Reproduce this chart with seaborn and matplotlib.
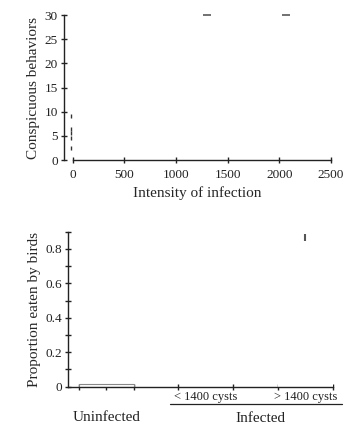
import matplotlib
matplotlib.use("Agg")
import matplotlib.pyplot as plt
import seaborn as sns
import pandas as pd
import numpy as np

# ---- data ----
low_x = [-20, -20, -20, -20, -20]
low_y = [9.2, 6.5, 5.5, 4.5, 2.5]
high_x = [1300, 2060]
high_y = [29.9, 29.9]

categories = ["Uninfected", "< 1400 cysts", "> 1400 cysts"]
proportions = [0.014, 0.0, 0.866]
prop_err = [0.0, 0.0, 0.022]

sns.set_theme(style="ticks")
plt.rcParams['font.family'] = ['Liberation Serif', 'DejaVu Serif']
plt.rcParams['axes.edgecolor'] = '#222222'
plt.rcParams['axes.linewidth'] = 1.0

fig = plt.figure(figsize=(3.51, 4.25), dpi=100)

# ---- top panel ----
ax1 = fig.add_axes([0.1823, 0.6235, 0.761, 0.3412])
sns.scatterplot(x=low_x, y=low_y, marker='|', s=12, color='#333333',
                linewidth=1.0, ax=ax1, clip_on=False)
sns.scatterplot(x=high_x, y=high_y, marker='_', s=30, color='#666666',
                linewidth=1.3, ax=ax1, clip_on=False)
ax1.set_xlim(-84, 2500)
ax1.set_ylim(0, 30)
ax1.set_xticks([0, 500, 1000, 1500, 2000, 2500])
ax1.set_yticks([0, 5, 10, 15, 20, 25, 30])
ax1.spines['top'].set_visible(False)
ax1.spines['right'].set_visible(False)
ax1.spines['bottom'].set_bounds(0, 2500)
ax1.tick_params(direction='inout', length=5, width=1.0, labelsize=9.5,
                colors='#222222', pad=2)
ax1.tick_params(axis='x', pad=4)
ax1.set_xlabel("Intensity of infection", fontsize=11, labelpad=4)
ax1.set_ylabel("Conspicuous behaviors", fontsize=11, labelpad=3)

# ---- bottom panel ----
ax2 = fig.add_axes([0.1946, 0.0901, 0.755, 0.3647])
df = pd.DataFrame({"cat": categories, "prop": proportions})
sns.barplot(data=df, x="cat", y="prop", color="white", width=0.55,
            edgecolor="#888888", linewidth=0.8, errorbar=None, ax=ax2)
for i, p in enumerate(ax2.patches):
    if i > 0:
        p.set_edgecolor('none')
ax2.errorbar([2], [proportions[2]], yerr=[prop_err[2]], fmt='none',
             ecolor='#555555', elinewidth=1.5, capsize=0)
ax2.set_xlim(-0.38, 2.28)
ax2.set_ylim(0, 0.9)
ax2.set_yticks([0, 0.2, 0.4, 0.6, 0.8])
ax2.set_yticklabels(["0", "0.2", "0.4", "0.6", "0.8"])
ax2.set_yticks(np.arange(0.1, 0.91, 0.2), minor=True)
ax2.set_xticks([-0.275, 0, 0.275, 0.725, 1.275, 1.725, 2.275])
ax2.set_xticklabels([])
ax2.spines['top'].set_visible(False)
ax2.spines['right'].set_visible(False)
ax2.tick_params(which='both', direction='inout', length=5, width=1.0,
                labelsize=9.5, colors='#222222', pad=2)
ax2.set_xlabel("")
ax2.set_ylabel("Proportion eaten by birds", fontsize=11, labelpad=3)

for xi, lab in zip([1, 2], categories[1:]):
    ax2.text(xi, -0.06, lab, ha='center', va='center', fontsize=9,
             color='#222222')
ax2.text(0, -0.18, "Uninfected", ha='center', va='center', fontsize=11,
         color='#222222')
ax2.text(1.55, -0.185, "Infected", ha='center', va='center', fontsize=11,
         color='#222222')
ax2.plot([0.64, 2.367], [-0.1025, -0.1025], color='#222222', lw=0.9,
         clip_on=False)

fig.savefig("out.png", dpi=100, facecolor='white')
